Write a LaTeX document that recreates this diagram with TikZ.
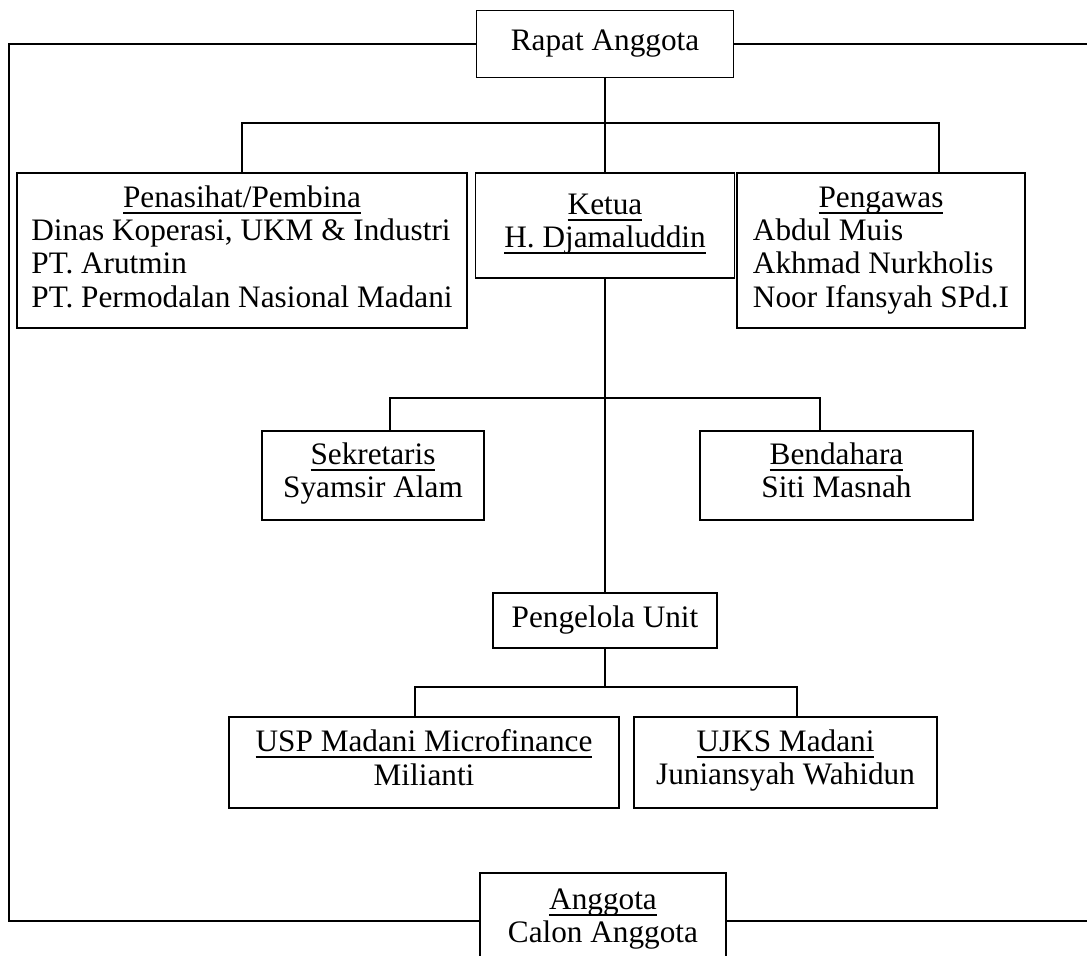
\documentclass[tikz,border=0pt]{standalone}
\usepackage{fontspec}
\setmainfont{Liberation Serif}
\newcommand{\garisBawah}[1]{\setbox0\hbox{#1}\rlap{\rule[-2.6pt]{\wd0}{0.8pt}}\box0}
\tikzset{
	kotak/.style={draw, line width=0.7pt, inner sep=0pt, align=center, font=\fontsize{12.5}{13.3}\selectfont,
		execute at begin node=\strut, execute at end node=\strut},
	garis/.style={line width=0.7pt},
}

\begin{document}
\begin{tikzpicture}[x=0.4pt, y=-0.4pt]
%%%%%%%%%%%%%%%%%%

%Frame
	\clip (0,0) rectangle (1087,955);
	\fill[white] (0,0) rectangle (1087,955);
	\coordinate (kiri) at (9,0);
	\coordinate (kanan) at (1087,0);

%Boxes
	\node[kotak, minimum width=102.8pt, minimum height=26.8pt] (rapat) at (605,44) {Rapat Anggota};
	\node[kotak, minimum width=180pt, minimum height=62pt] (penasihat) at (242,250.5)
		{\begin{tabular}{@{}l@{}}\multicolumn{1}{@{}c@{}}{\garisBawah{Penasihat/Pembina}}\\
		Dinas Koperasi, UKM \& Industri\\ PT. Arutmin\\ PT. Permodalan Nasional Madani\end{tabular}};
	\node[kotak, minimum width=103.6pt, minimum height=42pt] (ketua) at (605,225.5)
		{\garisBawah{Ketua}\\ \garisBawah{H. Djamaluddin}};
	\node[kotak, minimum width=115.2pt, minimum height=62pt] (pengawas) at (881,250.5)
		{\begin{tabular}{@{}l@{}}\multicolumn{1}{@{}c@{}}{\garisBawah{Pengawas}}\\
		Abdul Muis\\ Akhmad Nurkholis\\ Noor Ifansyah SPd.I\end{tabular}};
	\node[kotak, minimum width=88.8pt, minimum height=35.6pt] (sekretaris) at (373,475.5)
		{\garisBawah{Sekretaris}\\ Syamsir Alam};
	\node[kotak, minimum width=109.2pt, minimum height=35.6pt] (bendahara) at (836.5,475.5)
		{\garisBawah{Bendahara}\\ Siti Masnah};
	\node[kotak, minimum width=89.6pt, minimum height=22pt] (pengelola) at (605,620.5) {Pengelola Unit};
	\node[kotak, minimum width=156pt, minimum height=36.4pt] (usp) at (424,762.5)
		{\garisBawah{USP Madani Microfinance}\\ Milianti};
	\node[kotak, minimum width=121.2pt, minimum height=36.4pt] (ujks) at (785.5,762.5)
		{\garisBawah{UJKS Madani}\\ Juniansyah Wahidun};
	\node[kotak, minimum width=98.4pt, minimum height=38.4pt] (anggota) at (603,921)
		{\garisBawah{Anggota}\\ Calon Anggota};

%Outer loop
	\draw[garis] (rapat.west) -- (rapat.west -| kiri) |- (anggota.west);
	\draw[garis] (rapat.east) -- (rapat.east -| kanan);
	\draw[garis] (anggota.east) -- (anggota.east -| kanan);

%Branches
	\coordinate (cab1) at (605,123);
	\coordinate (cab2) at (605,398);
	\coordinate (cab3) at (605,687);
	\draw[garis] (rapat.south) -- (ketua.north);
	\draw[garis] (penasihat.north) |- (cab1) -| ([xshift=23.2pt]pengawas.north);
	\draw[garis] (ketua.south) -- (pengelola.north);
	\draw[garis] ([xshift=6.8pt]sekretaris.north) |- (cab2) -| ([xshift=-6.6pt]bendahara.north);
	\draw[garis] (pengelola.south) -- (cab3);
	\draw[garis] ([xshift=-3.6pt]usp.north) |- (cab3) -| ([xshift=4.6pt]ujks.north);

\end{tikzpicture}
\end{document}
